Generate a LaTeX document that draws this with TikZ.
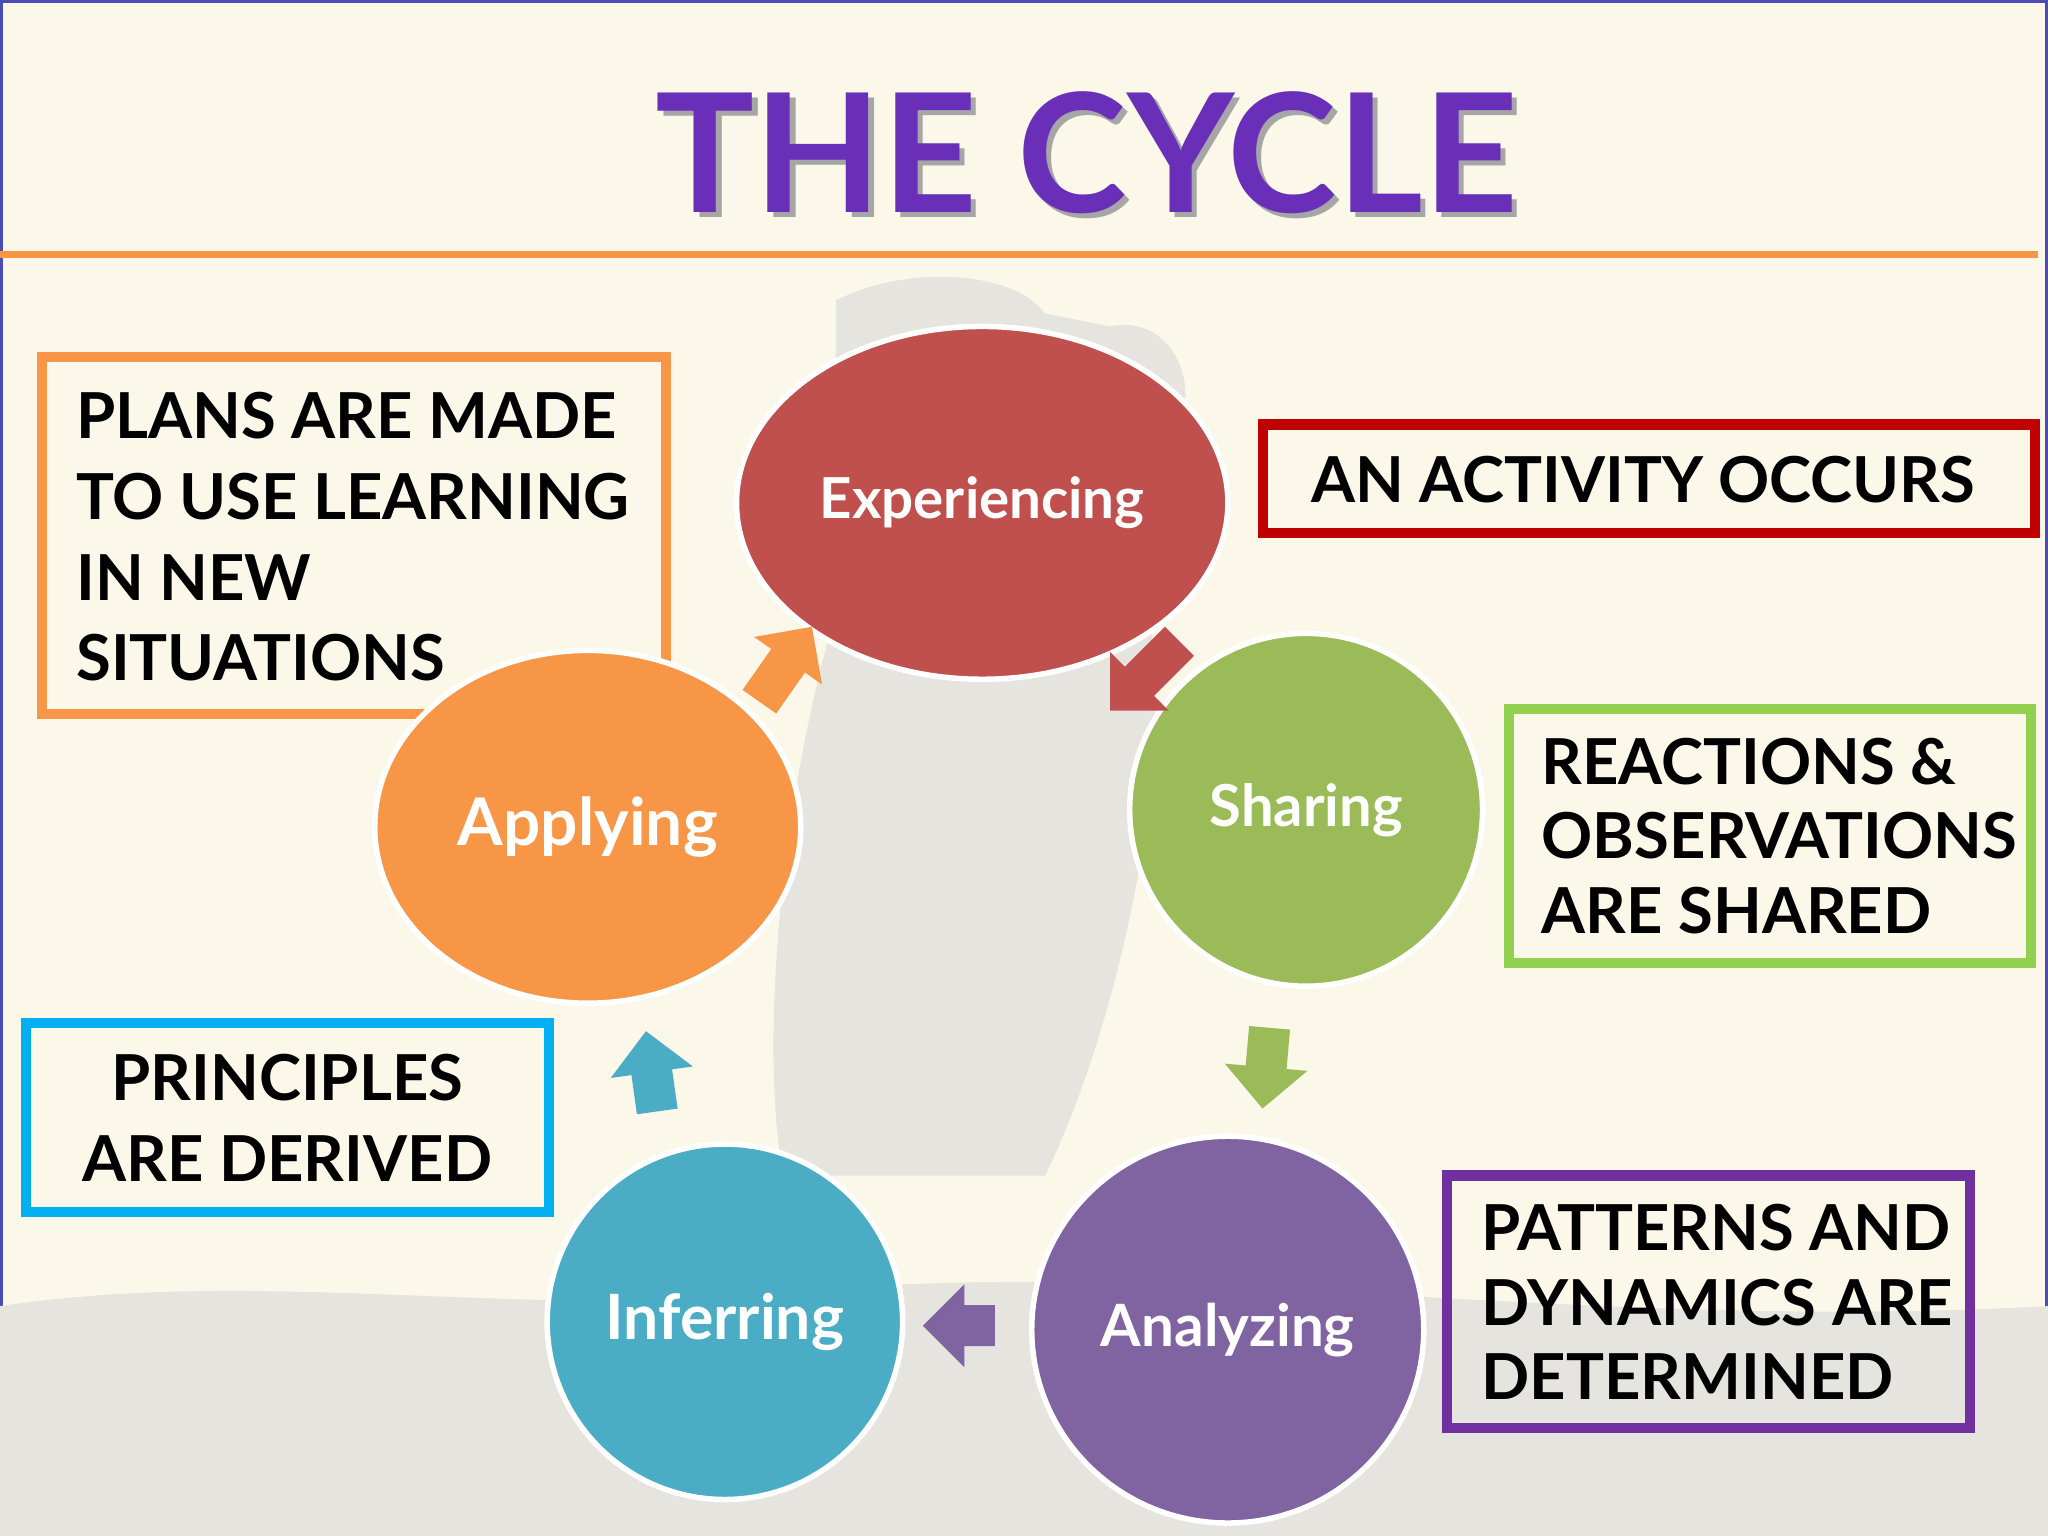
\documentclass[tikz,border=0pt]{standalone}
\usepackage{fontspec}
\setmainfont{Lato}
\usetikzlibrary{shapes.arrows,shapes.geometric}
\definecolor{bg}{HTML}{FBF7E9}
\definecolor{sil}{HTML}{E6E4DF}
\definecolor{cred}{HTML}{C0504D}
\definecolor{cgreen}{HTML}{9BBB59}
\definecolor{cpurple}{HTML}{8064A2}
\definecolor{cblue}{HTML}{4BACC6}
\definecolor{corange}{HTML}{F79646}
\definecolor{ttl}{HTML}{6A2FB8}
\definecolor{bred}{HTML}{C00000}
\definecolor{bgreen}{HTML}{92D050}
\definecolor{bblue}{HTML}{00B0F0}
\definecolor{bpurple}{HTML}{7030A0}
\tikzset{
  phase/.style={ellipse,draw=white,line width=1.2pt,fill=#1,text=white,inner sep=0pt},
  infobox/.style={draw=#1,line width=2.2pt},
  boxfont/.style={font=\fontsize{13.8}{17.6}\selectfont\bfseries},
  tightfont/.style={font=\fontsize{13.8}{16.2}\selectfont\bfseries},
  boxtext/.style={align=left,anchor=west}
}
\begin{document}
\begin{tikzpicture}[x=0.01cm,y=-0.01cm]
\useasboundingbox (0,0) rectangle (1568,1176);
\fill[bg] (0,0) rectangle (1568,1176);
\draw[line width=0.8pt,color=gray!60!blue] (1,1) rectangle (1567,1175);
% silhouettes (soft background)
\fill[sil] (0,1176) -- (0,1000) .. controls (200,970) and (400,1010) .. (600,990) .. controls (900,960) and (1200,1020) .. (1568,1000) -- (1568,1176) -- cycle;
\fill[sil] (640,230) .. controls (700,200) and (780,210) .. (800,240) -- (850,250) .. controls (900,240) and (920,300) .. (900,330) -- (880,470) .. controls (900,600) and (850,800) .. (800,900) -- (600,900) .. controls (580,800) and (600,600) .. (640,470) -- cycle;
% title
\node[font=\fontsize{36}{40}\selectfont\bfseries,text=black!35] at (836,121) {THE CYCLE};
\node[font=\fontsize{36}{40}\selectfont\bfseries,text=ttl] (title) at (832,117) {THE CYCLE};
\draw[corange,line width=1.6pt] (0,195) -- (1560,195);
% boxes
\draw[infobox=corange] (32,273) rectangle (510,547);
\node[boxfont,boxtext] (tapply) at (46,411) {PLANS ARE MADE\\TO USE LEARNING\\IN NEW\\SITUATIONS};
\draw[infobox=bred] (967,325) rectangle (1558,408);
\node[boxfont] (texp) at (1258,367) {AN ACTIVITY OCCURS};
\draw[infobox=bgreen] (1155,543) rectangle (1555,737);
\node[tightfont,boxtext] (tshare) at (1168,640) {REACTIONS \&\\OBSERVATIONS\\ARE SHARED};
\draw[infobox=bblue] (20,783) rectangle (420,928);
\node[boxfont,align=center] (tinfer) at (220,856) {PRINCIPLES\\ARE DERIVED};
\draw[infobox=bpurple] (1108,900) rectangle (1508,1093);
\node[tightfont,boxtext] (tanal) at (1122,997) {PATTERNS AND\\DYNAMICS ARE\\DETERMINED};
% phases
\node[phase=cred,minimum width=3.76cm,minimum height=2.70cm,font=\fontsize{12.3}{14}\selectfont\bfseries] (exp) at (752,385) {Experiencing};
\node[phase=cgreen,minimum width=2.70cm,minimum height=2.70cm,font=\fontsize{12.6}{14}\selectfont\bfseries] (share) at (1000,620) {Sharing};
\node[phase=cpurple,minimum width=3.00cm,minimum height=2.96cm,font=\fontsize{12.7}{14}\selectfont\bfseries] (anal) at (940,1018) {Analyzing};
\node[phase=cblue,minimum width=2.72cm,minimum height=2.72cm,font=\fontsize{13.6}{15}\selectfont\bfseries] (infer) at (555,1012) {Inferring};
\node[phase=corange,minimum width=3.26cm,minimum height=2.70cm,font=\fontsize{14.3}{16}\selectfont\bfseries] (apply) at (450,633) {Applying};
% arrows
\tikzset{blk/.style={single arrow,fill=#1,draw=none,single arrow head extend=1.6mm,minimum width=4mm,inner sep=1.5mm}}
\node[blk=cred,rotate=-135,minimum height=0.75cm] (a1) at (882,512) {};
\node[blk=cgreen,rotate=-95,minimum height=0.62cm] (a2) at (970,810) {};
\node[blk=cpurple,rotate=180,minimum height=0.55cm] (a3) at (742,1015) {};
\node[blk=cblue,rotate=98,minimum height=0.62cm] (a4) at (500,828) {};
\node[blk=corange,rotate=55,minimum height=0.70cm] (a5) at (597,515) {};
\end{tikzpicture}
\end{document}
